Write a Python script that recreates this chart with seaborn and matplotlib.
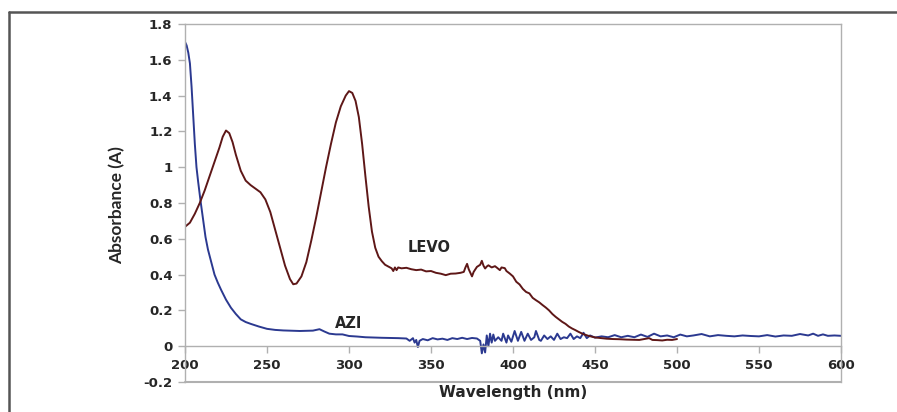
import matplotlib.pyplot as plt
import matplotlib.lines as mlines
import seaborn as sns
import pandas as pd

# LEVO spectrum
levo_nm = [200, 203, 206, 209, 212, 215, 218, 221, 223, 225, 227, 229, 231, 234, 237,
           240, 243, 246, 249, 252, 255, 258, 261, 264, 266, 268, 271, 274, 277, 280,
           283, 286, 289, 292, 295, 298, 300, 302, 304, 306, 308, 310, 312, 314, 316,
           318, 320, 322, 324, 326, 327, 328, 329, 330, 332, 335, 338, 341, 344, 347,
           350, 353, 356, 359, 362, 365, 368, 370, 371, 372, 373, 374, 375, 376, 378,
           380, 381, 382, 383, 384, 385, 387, 389, 390, 392, 393, 395, 396, 398, 400,
           402, 404, 406, 408, 410, 412, 414, 416, 418, 420, 422, 424, 426, 428, 430,
           432, 434, 436, 438, 440, 443, 446, 450, 453, 457, 461, 465, 469, 473, 477,
           480, 483, 485, 488, 491, 494, 497, 500]
levo_abs = [0.667, 0.69, 0.74, 0.80, 0.87, 0.95, 1.03, 1.11, 1.17, 1.205, 1.19, 1.14, 1.07, 0.98, 0.925,
            0.9, 0.88, 0.86, 0.82, 0.75, 0.65, 0.55, 0.45, 0.375, 0.346, 0.35, 0.39, 0.47, 0.59, 0.72,
            0.86, 1.0, 1.13, 1.25, 1.34, 1.40, 1.425, 1.415, 1.37, 1.28, 1.13, 0.95, 0.78, 0.64, 0.55,
            0.50, 0.475, 0.455, 0.445, 0.435, 0.42, 0.44, 0.425, 0.44, 0.435, 0.438, 0.43, 0.425, 0.428, 0.418,
            0.42, 0.41, 0.405, 0.397, 0.405, 0.406, 0.41, 0.415, 0.44, 0.46, 0.43, 0.41, 0.39, 0.415, 0.443,
            0.455, 0.477, 0.45, 0.434, 0.445, 0.452, 0.44, 0.447, 0.44, 0.425, 0.44, 0.436, 0.42, 0.406, 0.39,
            0.36, 0.345, 0.32, 0.303, 0.295, 0.27, 0.257, 0.245, 0.23, 0.216, 0.20, 0.18, 0.164, 0.15, 0.136,
            0.125, 0.11, 0.099, 0.09, 0.08, 0.067, 0.058, 0.049, 0.046, 0.042, 0.04, 0.039, 0.037, 0.036, 0.035,
            0.04, 0.045, 0.035, 0.034, 0.032, 0.036, 0.035, 0.04]

# AZI spectrum
azi_nm = [200, 201, 202, 203, 204, 205, 206, 207, 208, 209.5, 211, 212.5, 214, 216, 218,
          220, 222, 225, 228, 231, 234, 237, 240, 245, 250, 255, 260, 270, 278, 282,
          285, 288, 292, 296, 300, 305, 310, 320, 330, 335, 337, 339, 340, 341, 342,
          343, 345, 348, 351, 354, 357, 360, 363, 366, 369, 372, 375, 378, 380, 381,
          382, 383, 384, 385, 386, 387, 388, 389, 391, 393, 394, 396, 397, 399, 401,
          403, 405, 407, 409, 411, 413, 414, 416, 417, 419, 421, 423, 425, 427, 429,
          431, 433, 435, 437, 439, 441, 443, 445, 447, 450, 454, 458, 462, 466, 470,
          474, 478, 482, 486, 490, 494, 498, 502, 506, 510, 515, 520, 525, 530, 535,
          540, 545, 550, 555, 560, 565, 570, 575, 580, 583, 586, 589, 592, 596, 600]
azi_abs = [1.70, 1.68, 1.64, 1.58, 1.45, 1.29, 1.13, 1.0, 0.92, 0.81, 0.71, 0.61, 0.54, 0.47, 0.40,
           0.355, 0.315, 0.26, 0.215, 0.18, 0.15, 0.135, 0.125, 0.11, 0.097, 0.091, 0.088, 0.085, 0.087, 0.095,
           0.082, 0.07, 0.066, 0.066, 0.057, 0.054, 0.05, 0.047, 0.045, 0.043, 0.03, 0.045, 0.02, 0.035, -0.005,
           0.03, 0.04, 0.033, 0.045, 0.038, 0.042, 0.035, 0.045, 0.04, 0.047, 0.04, 0.046, 0.043, 0.03, -0.04,
           0.01, -0.035, 0.06, 0.0, 0.07, 0.02, 0.065, 0.03, 0.05, 0.03, 0.07, 0.02, 0.06, 0.025, 0.085,
           0.03, 0.08, 0.03, 0.07, 0.035, 0.05, 0.085, 0.035, 0.03, 0.06, 0.04, 0.055, 0.035, 0.07, 0.04,
           0.05, 0.045, 0.07, 0.04, 0.055, 0.045, 0.075, 0.045, 0.06, 0.048, 0.055, 0.05, 0.062, 0.05, 0.058,
           0.05, 0.065, 0.052, 0.07, 0.055, 0.06, 0.05, 0.065, 0.055, 0.06, 0.068, 0.055, 0.062, 0.058, 0.055,
           0.06, 0.057, 0.055, 0.062, 0.054, 0.06, 0.058, 0.068, 0.06, 0.07, 0.058, 0.066, 0.058, 0.06, 0.058]

levo_df = pd.DataFrame({"nm": levo_nm, "A": levo_abs})
azi_df = pd.DataFrame({"nm": azi_nm, "A": azi_abs})

sns.set_style("white")
plt.rcParams['font.family'] = ['DejaVu Sans']

fig = plt.figure(figsize=(8.97, 4.12), dpi=100)
ax = fig.add_axes([185 / 897, 30 / 412, 656 / 897, 358 / 412])

sns.lineplot(data=azi_df, x="nm", y="A", ax=ax, color="#2b3990", linewidth=1.4)
sns.lineplot(data=levo_df, x="nm", y="A", ax=ax, color="#5e1717", linewidth=1.4)

ax.set_xlim(200, 600)
ax.set_ylim(-0.2, 1.8)
ax.set_xticks(range(200, 601, 50))
ax.set_yticks([-0.2, 0, 0.2, 0.4, 0.6, 0.8, 1.0, 1.2, 1.4, 1.6, 1.8])
ax.set_yticklabels(["-0.2", "0", "0.2", "0.4", "0.6", "0.8", "1", "1.2", "1.4", "1.6", "1.8"])

grey = "#b0b0b0"
for s in ax.spines.values():
    s.set_color(grey)
    s.set_linewidth(1.0)
ax.spines['bottom'].set_position(('data', 0))
ax.axhline(-0.2, color=grey, linewidth=1.5, clip_on=False)
ax.tick_params(axis='both', direction='out', length=5, width=1, color=grey,
               labelsize=9.5, pad=4, bottom=True, left=True)
for lab in ax.get_xticklabels() + ax.get_yticklabels():
    lab.set_fontweight('bold')

ax.set_xlabel("")
ax.set_ylabel("")
fig.text(513 / 897, 1 - 393 / 412, "Wavelength (nm)", ha='center', va='center',
         fontsize=11, fontweight='bold')
fig.text(117 / 897, 1 - 205 / 412, "Absorbance (A)", ha='center', va='center',
         rotation=90, fontsize=12.5, fontweight='bold', family=['Lato', 'DejaVu Sans'])

ax.text(336, 0.553, "LEVO", ha='left', va='center', fontsize=10.5, fontweight='bold')
ax.text(291.5, 0.128, "AZI", ha='left', va='center', fontsize=10.5, fontweight='bold')

# outer frame (left and top edge)
fig.add_artist(mlines.Line2D([8.5 / 897, 8.5 / 897], [0, 1 - 12 / 412], color="#555555", linewidth=1.8))
fig.add_artist(mlines.Line2D([8.5 / 897, 1], [1 - 12 / 412, 1 - 12 / 412], color="#555555", linewidth=1.8))

fig.savefig("out.png", dpi=100)
